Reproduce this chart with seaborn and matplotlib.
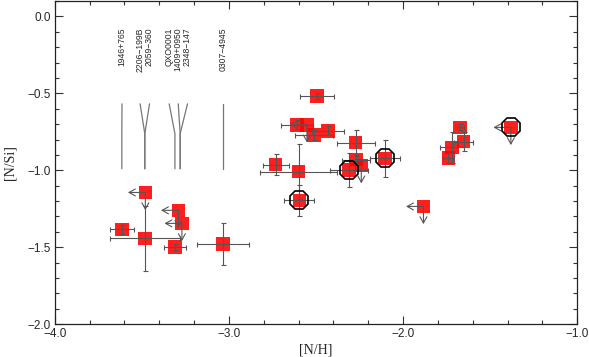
import numpy as np
import pandas as pd
import matplotlib
matplotlib.use("Agg")
import matplotlib.pyplot as plt
import seaborn as sns

# [N/H], [N/Si] measurements with errors; lim flags mark upper limits
nh = [-3.615, -3.48, -3.483, -3.29, -3.27, -3.31, -3.034, -2.494, -2.609, -2.552,
      -2.51, -2.431, -2.272, -2.732, -2.60, -2.596, -2.309, -2.27, -2.24, -2.103,
      -1.672, -1.653, -1.72, -1.74, -1.381, -1.883]
nsi = [-1.384, -1.144, -1.442, -1.26, -1.345, -1.50, -1.48, -0.516, -0.704, -0.704,
       -0.77, -0.743, -0.82, -0.963, -1.008, -1.196, -0.997, -0.93, -0.97, -0.922,
       -0.721, -0.814, -0.851, -0.92, -0.721, -1.235]
nh_err = [0.07, 0, 0.20, 0, 0, 0.065, 0.15, 0.10, 0.09, 0,
          0.11, 0.09, 0.11, 0.075, 0.22, 0.086, 0.11, 0.08, 0, 0.086,
          0.02, 0.055, 0.067, 0.03, 0, 0]
nsi_err = [0.03, 0, 0.21, 0, 0, 0.02, 0.135, 0.02, 0.03, 0,
           0.03, 0.03, 0.085, 0.07, 0.18, 0.10, 0.11, 0.03, 0, 0.12,
           0.02, 0.06, 0.10, 0.03, 0, 0]
nh_lim = [0, 1, 0, 1, 1, 0, 0, 0, 0, 1, 0, 0, 0, 0, 0, 0, 0, 0, 0, 0, 0, 0, 0, 0, 1, 1]
nsi_lim = [0, 1, 0, 1, 1, 0, 0, 0, 0, 1, 0, 0, 0, 0, 0, 0, 0, 0, 1, 0, 0, 0, 0, 0, 1, 1]
circled = [0, 0, 0, 0, 0, 0, 0, 0, 0, 0, 0, 0, 0, 0, 0, 1, 1, 0, 0, 1, 0, 0, 0, 0, 1, 0]

# object labels: text x position and the [N/H] of the object they point to
names = ["1946+765", "2206\u2212199B", "2059\u2212360", "QXO0001",
         "1409+0950", "2348\u2212147", "0307\u22124945"]
name_x = [-3.614, -3.510, -3.456, -3.343, -3.291, -3.238, -3.033]
name_obj = [-3.615, -3.483, -3.483, -3.31, -3.28, -3.28, -3.033]

df = pd.DataFrame({"nh": nh, "nsi": nsi, "xe": nh_err, "ye": nsi_err,
                   "xl": nh_lim, "yl": nsi_lim, "c": circled})

sns.set_style("ticks")
plt.rcParams["font.family"] = ["Liberation Sans", "DejaVu Sans"]
fig = plt.figure(figsize=(5.89, 3.57), dpi=100)
ax = fig.add_axes([0.093, 0.092, 0.887, 0.905])

sns.scatterplot(data=df, x="nh", y="nsi", marker="s", s=95, color="#ff0000",
                alpha=0.88, edgecolor="none", linewidth=0, ax=ax, zorder=2, legend=False)

gray = "#555555"
m = (df.xe > 0) | (df.ye > 0)
ax.errorbar(df.nh[m], df.nsi[m], xerr=df.xe[m], yerr=df.ye[m], fmt="none",
            ecolor=gray, elinewidth=0.8, capsize=1.8, capthick=0.8, zorder=3)

arr = dict(arrowstyle="->,head_length=0.45,head_width=0.25", color=gray, lw=0.8,
           shrinkA=0, shrinkB=0)
for _, r in df.iterrows():
    if r.xl:
        ax.annotate("", xy=(r.nh - 0.1, r.nsi), xytext=(r.nh, r.nsi), arrowprops=arr, zorder=3)
    if r.yl:
        ax.annotate("", xy=(r.nh, r.nsi - 0.115), xytext=(r.nh, r.nsi), arrowprops=arr, zorder=3)

cc = df[df.c == 1]
ax.plot(cc.nh, cc.nsi, ls="none", marker="8", ms=14, mfc="none", mec="black",
        mew=1.2, zorder=4)

# label lines (forks to the objects) and labels
for t, xt, xo in zip(names, name_x, name_obj):
    ax.plot([xt, xo, xo], [-0.568, -0.763, -0.99], color="#777777", lw=0.9, zorder=1)
    ax.text(xt, -0.07, t, rotation=90, ha="center", va="top", fontsize=6.2)

ax.set_xlim(-4.0, -1.0)
ax.set_ylim(-2.0, 0.1)
ax.set_xticks([-4.0, -3.0, -2.0, -1.0])
ax.set_xticklabels(["\u22124.0", "\u22123.0", "\u22122.0", "\u22121.0"])
ax.set_yticks([0.0, -0.5, -1.0, -1.5, -2.0])
ax.set_yticklabels(["0.0", "\u22120.5", "\u22121.0", "\u22121.5", "\u22122.0"])
ax.set_xticks(np.arange(-4.0, -0.99, 0.2), minor=True)
ax.set_yticks(np.arange(-2.0, 0.11, 0.1), minor=True)
ax.tick_params(which="both", direction="in", top=True, right=True, width=0.8,
               labelsize=8.5, color="#333333")
ax.tick_params(which="major", length=6, pad=3)
ax.tick_params(which="minor", length=3)
for s in ax.spines.values():
    s.set_linewidth(0.9)
    s.set_color("#222222")

ax.set_xlabel("[N/H]", family="Liberation Serif", fontsize=10, labelpad=2)
ax.set_ylabel("[N/Si]", family="Liberation Serif", fontsize=10, labelpad=8)

fig.savefig("out.png", dpi=100)
